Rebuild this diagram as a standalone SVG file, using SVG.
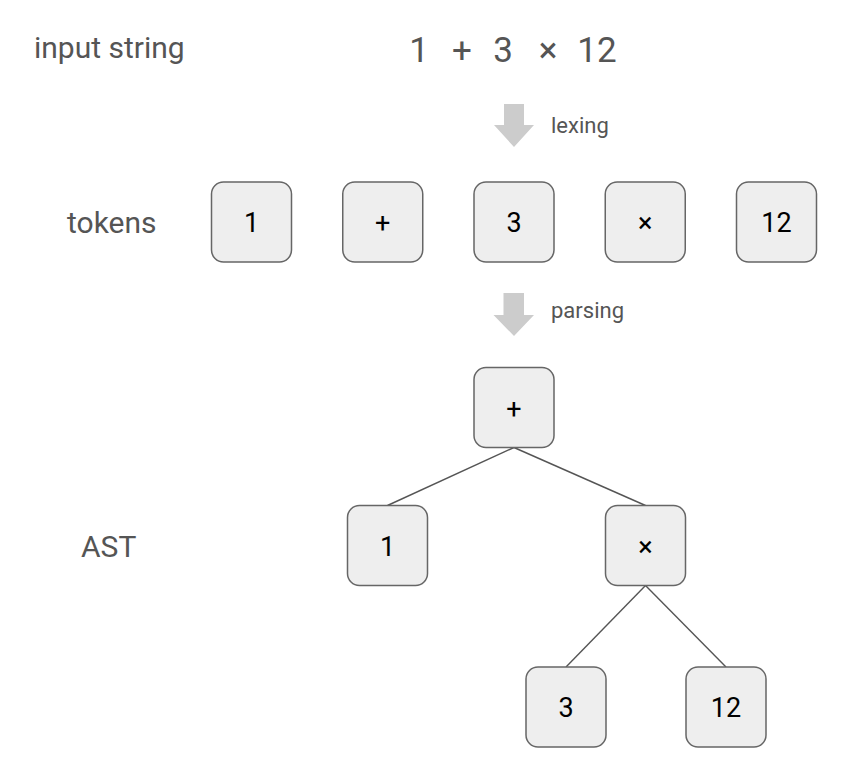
<svg xmlns="http://www.w3.org/2000/svg" width="852" height="781" viewBox="0 0 852 781">
<style>
.lbl{font-family:Roboto,"Liberation Sans",sans-serif;font-size:30px;fill:#555}
.small{font-family:Roboto,"Liberation Sans",sans-serif;font-size:22px;fill:#555}
.expr{font-family:Roboto,"Liberation Sans",sans-serif;font-size:35px;fill:#555;text-anchor:middle}
.box{fill:#eeeeee;stroke:#666;stroke-width:1.5}
.bt{font-family:Roboto,"Liberation Sans",sans-serif;font-size:27px;fill:#000;text-anchor:middle}
.edge{stroke:#555;stroke-width:1.4;fill:none}
.arrow{fill:#cccccc}
</style>
<rect width="852" height="781" fill="#fff"/>
<g id="labels">
<text class="lbl" x="34" y="58">input string</text>
<text class="lbl" x="67" y="233">tokens</text>
<text class="lbl" x="81" y="557">AST</text>
</g>
<g id="expression">
<text class="expr" x="419" y="62">1</text>
<text class="expr" x="462" y="62">+</text>
<text class="expr" x="503" y="62">3</text>
<text class="expr" x="548" y="62">×</text>
<text class="expr" x="597" y="62">12</text>
</g>
<g id="lexing">
<path class="arrow" d="M504 104H524V125H534L514 147L494 125H504Z"/>
<text class="small" x="551" y="133">lexing</text>
</g>
<g id="parsing">
<path class="arrow" d="M503.5 293H524V315H534L514 336L493.5 315H503.5Z"/>
<text class="small" x="551" y="318">parsing</text>
</g>
<g id="connectors">
<line class="edge" x1="514" y1="447.5" x2="387.5" y2="505.5"/>
<line class="edge" x1="514" y1="447.5" x2="645.5" y2="505.5"/>
<line class="edge" x1="645.5" y1="585.5" x2="566" y2="667"/>
<line class="edge" x1="645.5" y1="585.5" x2="726" y2="667"/>
</g>
<g id="tok1"><rect class="box" x="211.5" y="182" width="80" height="80" rx="12"/><text class="bt" x="251.5" y="232">1</text></g>
<g id="tok2"><rect class="box" x="342.75" y="182" width="80" height="80" rx="12"/><text class="bt" x="382.75" y="232">+</text></g>
<g id="tok3"><rect class="box" x="474" y="182" width="80" height="80" rx="12"/><text class="bt" x="514" y="232">3</text></g>
<g id="tok4"><rect class="box" x="605.25" y="182" width="80" height="80" rx="12"/><text class="bt" x="645.25" y="232">×</text></g>
<g id="tok5"><rect class="box" x="736.5" y="182" width="80" height="80" rx="12"/><text class="bt" x="776.5" y="232">12</text></g>
<g id="ast-plus"><rect class="box" x="474" y="367.5" width="80" height="80" rx="12"/><text class="bt" x="514" y="417.5">+</text></g>
<g id="ast-1"><rect class="box" x="347.5" y="505.5" width="80" height="80" rx="12"/><text class="bt" x="387.5" y="555.5">1</text></g>
<g id="ast-times"><rect class="box" x="605.5" y="505.5" width="80" height="80" rx="12"/><text class="bt" x="645.5" y="555.5">×</text></g>
<g id="ast-3"><rect class="box" x="526" y="667" width="80" height="80" rx="12"/><text class="bt" x="566" y="717">3</text></g>
<g id="ast-12"><rect class="box" x="686" y="667" width="80" height="80" rx="12"/><text class="bt" x="726" y="717">12</text></g>
</svg>
